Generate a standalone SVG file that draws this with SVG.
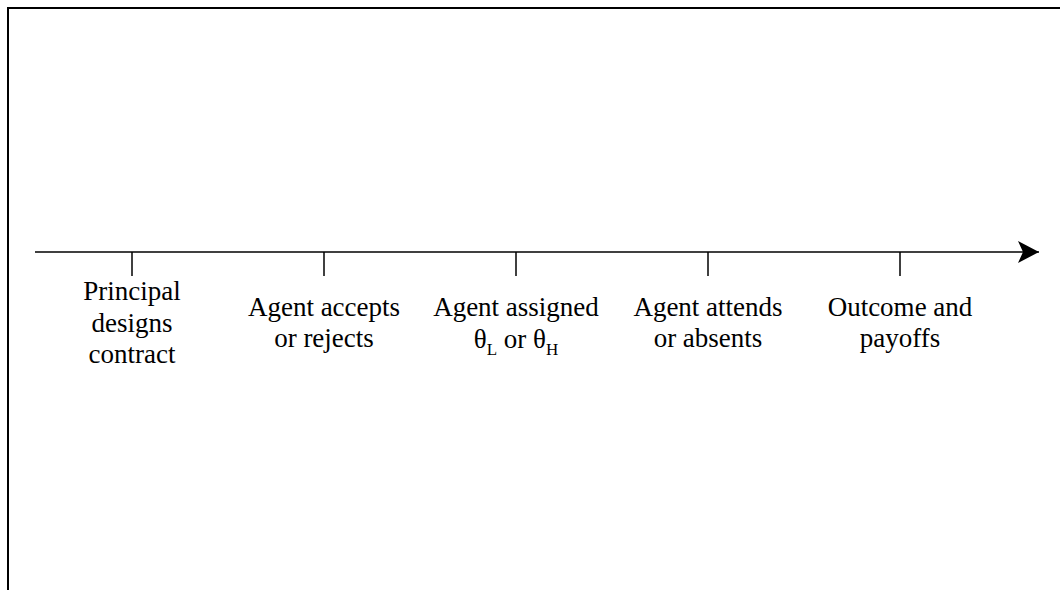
<svg xmlns="http://www.w3.org/2000/svg" width="1060" height="590" viewBox="0 0 1060 590">
  <style>
    .frame { fill: none; stroke: #000; stroke-width: 2; }
    .axis { fill: none; stroke: #000; stroke-width: 1.6; }
    .tick { fill: none; stroke: #000; stroke-width: 1.5; }
    .lbl { font-family: "Liberation Serif", "Times New Roman", serif; font-size: 27px; fill: #000; text-anchor: middle; }
    .sub { font-size: 17px; }
  </style>
  <defs>
    <marker id="arrow" markerUnits="userSpaceOnUse" markerWidth="24" markerHeight="26" refX="21" refY="12" orient="auto">
      <path d="M21,12 L0,1 L5,12 L0,23 Z" fill="#000"/>
    </marker>
  </defs>
  <rect width="1060" height="590" fill="#fff"/>
  <path class="frame" d="M8,590 V8 H1060"/>
  <g id="connectors">
    <path class="axis" d="M35,252 H1039" marker-end="url(#arrow)"/>
  </g>
  <g id="node-1">
    <line class="tick" x1="132" y1="252" x2="132" y2="276"/>
    <text class="lbl" x="132" y="300">Principal</text>
    <text class="lbl" x="132" y="331.5">designs</text>
    <text class="lbl" x="132" y="363">contract</text>
  </g>
  <g id="node-2">
    <line class="tick" x1="324" y1="252" x2="324" y2="276"/>
    <text class="lbl" x="324" y="316">Agent accepts</text>
    <text class="lbl" x="324" y="347">or rejects</text>
  </g>
  <g id="node-3">
    <line class="tick" x1="516" y1="252" x2="516" y2="276"/>
    <text class="lbl" x="516" y="316">Agent assigned</text>
    <text class="lbl" x="516" y="348">θ<tspan class="sub" dy="7">L</tspan><tspan dy="-7"> or θ</tspan><tspan class="sub" dy="7">H</tspan></text>
  </g>
  <g id="node-4">
    <line class="tick" x1="708" y1="252" x2="708" y2="276"/>
    <text class="lbl" x="708" y="316">Agent attends</text>
    <text class="lbl" x="708" y="347">or absents</text>
  </g>
  <g id="node-5">
    <line class="tick" x1="900" y1="252" x2="900" y2="276"/>
    <text class="lbl" x="900" y="316">Outcome and</text>
    <text class="lbl" x="900" y="347">payoffs</text>
  </g>
</svg>
